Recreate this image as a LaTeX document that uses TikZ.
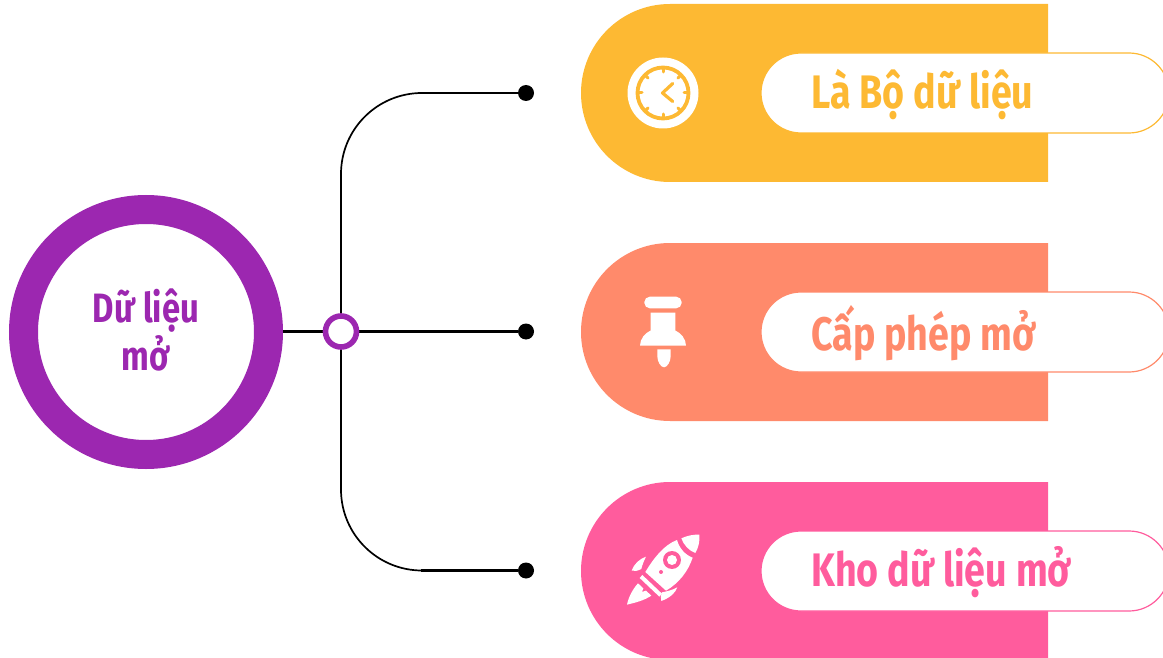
\documentclass[tikz,border=0pt]{standalone}
\usepackage{fontspec}
\setmainfont[FakeStretch=0.80]{Fira Sans}
\definecolor{cY}{HTML}{FDB933}
\definecolor{cO}{HTML}{FF8A6B}
\definecolor{cP}{HTML}{FF5C9D}
\definecolor{cV}{HTML}{9C27B0}
\tikzset{
  pill/.style={fill=white,draw=#1,line width=1.2pt},
  ptext/.style={text=#1,font=\fontsize{47}{52}\selectfont\bfseries,anchor=west,inner sep=0pt},
  dotn/.style={circle,fill=black,draw=none,minimum size=16pt,inner sep=0pt},
  conn/.style={draw=black,line width=1.7pt},
  connh/.style={draw=black,line width=2.6pt},
}
\begin{document}
\begin{tikzpicture}[x=1pt,y=-1pt]
\useasboundingbox (0,0) rectangle (1163,658);
\clip (0,0) rectangle (1163,658);
% bands
\foreach \yy/\cc in {4/cY,243/cO,482/cP}{
  \fill[\cc] (1048,\yy) -- (670,\yy) arc[start angle=270,end angle=90,radius=89] -- (1048,\yy+178) -- cycle;
}
% pills
\foreach \yy/\cc in {53/cY,292/cO,531/cP}{
  \draw[pill=\cc] (801,\yy) -- (1129,\yy) arc[start angle=270,end angle=450,radius=40] -- (801,\yy+80) arc[start angle=90,end angle=270,radius=40] -- cycle;
}
% main circle and connectors
\node[circle,draw=cV,line width=29pt,fill=white,minimum size=245pt,inner sep=0pt] (main) at (146,332) {};
\node[align=center,text=cV,font=\fontsize{41}{48}\selectfont\bfseries,inner sep=0pt] (mainlabel) at (146,330) {Dữ liệu\\mở};
\node[dotn] (d1) at (526,93) {};
\node[dotn] (d2) at (526,331.5) {};
\node[dotn] (d3) at (526,570.5) {};
\coordinate (hub) at (341,331.5);
\coordinate (c1) at (421,93);
\coordinate (c3) at (421,570.5);
\draw[conn,rounded corners=81pt] (hub) |- (c1);
\draw[conn,rounded corners=81pt] (hub) |- (c3);
\draw[connh] (c1) -- (d1);
\draw[connh] (c3) -- (d3);
\draw[connh] (main.east |- hub) -- (d2);
\node[circle,draw=cV,line width=5.6pt,fill=white,minimum size=31pt,inner sep=0pt] (ring) at (hub) {};
% labels
\node[ptext=cY] (t1) at (811,94.5) {Là Bộ dữ liệu};
\node[ptext=cO] (t2) at (811,333.5) {Cấp phép mở};
\node[ptext=cP] (t3) at (811,572.5) {Kho dữ liệu mở};
% clock icon
\fill[white] (663,93) circle[radius=35.5pt];
\draw[cY,line width=3.8pt] (663,93) circle[radius=25.5pt];
\foreach \a in {0,45,...,315}{
  \draw[cY,line width=3pt,line cap=round] (663,93)++(\a:25) -- ++(\a+180:4);
}
\draw[cY,line width=3.2pt,line cap=round,line join=round] (672.7,83.5) -- (662.5,93) -- (672.7,101.5);
% pin icon
\fill[white,rounded corners=5.5pt] (644.3,296.7) rectangle (681.7,308.3);
\fill[white] (650.7,312.7) -- (675.3,312.7) -- (675.3,330.5) .. controls (681,333) and (686,339) .. (686,345.7) -- (640,345.7) .. controls (640,339) and (645,333) .. (650.7,330.5) -- cycle;
\fill[white] (657.3,349.3) -- (670.7,349.3) -- (670.7,356) .. controls (670.7,362) and (667,367.3) .. (664,367.3) .. controls (661,367.3) and (657.3,362) .. (657.3,356) -- cycle;
% rocket icon
\begin{scope}[shift={(622,530)},x=0.3333pt,y=-0.3333pt]
\fill[white] (178,25) .. controls (195,17) and (215,13) .. (232,14) .. controls (234,32) and (230,52) .. (220,69) .. controls (202,63) and (185,45) .. (178,25) -- cycle;
\fill[white] (165,30) .. controls (125,45) and (95,85) .. (70,126) -- (132,182) .. controls (170,160) and (198,125) .. (212,83) .. controls (190,75) and (172,55) .. (165,30) -- cycle;
\fill[cP] (150,90) circle[radius=27];
\fill[white] (150,90) circle[radius=15];
\fill[cP] (117,126) circle[radius=6];
\fill[white] (53,144) -- (61,135) -- (120,191) -- (112,200) -- cycle;
\fill[white] (48,160) -- (64,175) -- (60,186) -- (72,182) -- (88,197) .. controls (65,212) and (40,218) .. (15,224) .. controls (20,200) and (32,178) .. (48,160) -- cycle;
\fill[white] (72,80) .. controls (52,87) and (36,102) .. (29,122) .. controls (38,125) and (48,122) .. (58,117) .. controls (61,104) and (66,92) .. (72,80) -- cycle;
\fill[white] (166,172) .. controls (160,190) and (142,204) .. (118,213) .. controls (115,204) and (116,194) .. (120,187) .. controls (136,184) and (152,180) .. (166,172) -- cycle;
\end{scope}
\end{tikzpicture}
\end{document}
